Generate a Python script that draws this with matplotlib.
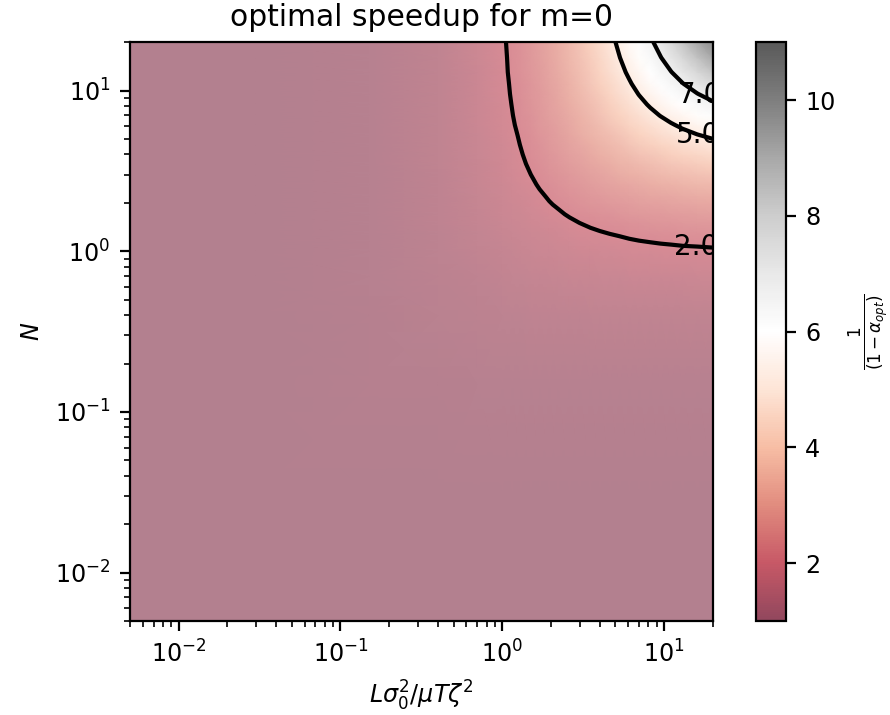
import numpy as np
import matplotlib
matplotlib.use("Agg")
import matplotlib.pyplot as plt
from matplotlib.colors import ListedColormap, Normalize
from matplotlib.cm import ScalarMappable

# grid of L sigma^2 / mu T zeta^2 values (same grid used for N)
x_vals = [0.005, 0.03, 0.15, 0.4, 0.7, 1.0, 1.15, 1.3, 1.5, 1.7, 1.95, 2.2, 2.6,
          3.0, 3.5, 4.0, 4.6, 5.3, 6.1, 7.0, 8.2, 9.5, 11.0, 13.0, 16.0, 20.0]
n_vals = [0.005, 0.03, 0.15, 0.4, 0.7, 1.0, 1.15, 1.3, 1.5, 1.7, 1.95, 2.2, 2.6,
          3.0, 3.5, 4.0, 4.6, 5.3, 6.1, 7.0, 8.2, 9.5, 11.0, 13.0, 16.0, 20.0]

# optimal speedup 1/(1-alpha_opt), rows = N, cols = x
speedup = [
    [1.00, 1.00, 1.00, 1.00, 1.00, 1.00, 1.00, 1.00, 1.00, 1.00, 1.00, 1.00, 1.00, 1.00, 1.00, 1.00, 1.00, 1.00, 1.00, 1.00, 1.00, 1.00, 1.00, 1.00, 1.00, 1.00],
    [1.00, 1.02, 1.03, 1.03, 1.03, 1.03, 1.03, 1.03, 1.03, 1.03, 1.03, 1.03, 1.03, 1.03, 1.03, 1.03, 1.03, 1.03, 1.03, 1.03, 1.03, 1.03, 1.03, 1.03, 1.03, 1.03],
    [1.00, 1.03, 1.08, 1.11, 1.12, 1.13, 1.13, 1.13, 1.14, 1.14, 1.14, 1.14, 1.14, 1.14, 1.14, 1.14, 1.15, 1.15, 1.15, 1.15, 1.15, 1.15, 1.15, 1.15, 1.15, 1.15],
    [1.00, 1.03, 1.11, 1.20, 1.25, 1.29, 1.30, 1.31, 1.32, 1.32, 1.33, 1.34, 1.35, 1.35, 1.36, 1.36, 1.37, 1.37, 1.38, 1.38, 1.38, 1.38, 1.39, 1.39, 1.39, 1.39],
    [1.00, 1.03, 1.12, 1.25, 1.35, 1.41, 1.44, 1.46, 1.48, 1.50, 1.52, 1.53, 1.55, 1.57, 1.58, 1.60, 1.61, 1.62, 1.63, 1.64, 1.64, 1.65, 1.66, 1.66, 1.67, 1.68],
    [1.00, 1.03, 1.13, 1.29, 1.41, 1.50, 1.53, 1.57, 1.60, 1.63, 1.66, 1.69, 1.72, 1.75, 1.78, 1.80, 1.82, 1.84, 1.86, 1.88, 1.89, 1.90, 1.92, 1.93, 1.94, 1.95],
    [1.00, 1.03, 1.13, 1.30, 1.44, 1.53, 1.58, 1.61, 1.65, 1.69, 1.72, 1.76, 1.80, 1.83, 1.87, 1.89, 1.92, 1.94, 1.97, 1.99, 2.01, 2.03, 2.04, 2.06, 2.07, 2.09],
    [1.00, 1.03, 1.13, 1.31, 1.46, 1.57, 1.61, 1.65, 1.70, 1.74, 1.78, 1.82, 1.87, 1.91, 1.95, 1.98, 2.01, 2.04, 2.07, 2.10, 2.12, 2.14, 2.16, 2.18, 2.20, 2.22],
    [1.00, 1.03, 1.14, 1.32, 1.48, 1.60, 1.65, 1.70, 1.75, 1.80, 1.85, 1.89, 1.95, 2.00, 2.05, 2.09, 2.13, 2.17, 2.20, 2.24, 2.27, 2.30, 2.32, 2.34, 2.37, 2.40],
    [1.00, 1.03, 1.14, 1.32, 1.50, 1.63, 1.69, 1.74, 1.80, 1.85, 1.91, 1.96, 2.03, 2.09, 2.14, 2.19, 2.24, 2.29, 2.33, 2.37, 2.41, 2.44, 2.47, 2.50, 2.54, 2.57],
    [1.00, 1.03, 1.14, 1.33, 1.52, 1.66, 1.72, 1.78, 1.85, 1.91, 1.98, 2.03, 2.11, 2.18, 2.25, 2.31, 2.37, 2.43, 2.48, 2.53, 2.58, 2.62, 2.66, 2.70, 2.74, 2.78],
    [1.00, 1.03, 1.14, 1.34, 1.53, 1.69, 1.76, 1.82, 1.89, 1.96, 2.03, 2.10, 2.19, 2.27, 2.35, 2.42, 2.49, 2.55, 2.62, 2.67, 2.73, 2.79, 2.83, 2.88, 2.93, 2.98],
    [1.00, 1.03, 1.14, 1.35, 1.55, 1.72, 1.80, 1.87, 1.95, 2.03, 2.11, 2.19, 2.30, 2.39, 2.49, 2.58, 2.66, 2.74, 2.82, 2.90, 2.97, 3.04, 3.10, 3.17, 3.24, 3.30],
    [1.00, 1.03, 1.14, 1.35, 1.57, 1.75, 1.83, 1.91, 2.00, 2.09, 2.18, 2.27, 2.39, 2.50, 2.62, 2.71, 2.82, 2.92, 3.01, 3.10, 3.20, 3.28, 3.36, 3.44, 3.53, 3.61],
    [1.00, 1.03, 1.14, 1.36, 1.58, 1.78, 1.87, 1.95, 2.05, 2.14, 2.25, 2.35, 2.49, 2.62, 2.75, 2.87, 2.99, 3.11, 3.22, 3.33, 3.45, 3.56, 3.66, 3.76, 3.87, 3.98],
    [1.00, 1.03, 1.14, 1.36, 1.60, 1.80, 1.89, 1.98, 2.09, 2.19, 2.31, 2.42, 2.58, 2.71, 2.87, 3.00, 3.14, 3.28, 3.42, 3.55, 3.69, 3.81, 3.93, 4.06, 4.20, 4.33],
    [1.00, 1.03, 1.15, 1.37, 1.61, 1.82, 1.92, 2.01, 2.13, 2.24, 2.37, 2.49, 2.66, 2.82, 2.99, 3.14, 3.30, 3.46, 3.62, 3.78, 3.95, 4.10, 4.24, 4.40, 4.57, 4.74],
    [1.00, 1.03, 1.15, 1.37, 1.62, 1.84, 1.94, 2.04, 2.17, 2.29, 2.43, 2.55, 2.74, 2.92, 3.11, 3.28, 3.46, 3.65, 3.84, 4.02, 4.22, 4.40, 4.58, 4.77, 4.98, 5.19],
    [1.00, 1.03, 1.15, 1.38, 1.63, 1.86, 1.97, 2.07, 2.20, 2.33, 2.48, 2.62, 2.82, 3.01, 3.22, 3.42, 3.62, 3.84, 4.05, 4.26, 4.50, 4.71, 4.92, 5.15, 5.42, 5.67],
    [1.00, 1.03, 1.15, 1.38, 1.64, 1.88, 1.99, 2.10, 2.24, 2.37, 2.53, 2.67, 2.90, 3.10, 3.33, 3.55, 3.78, 4.02, 4.26, 4.50, 4.78, 5.03, 5.28, 5.55, 5.87, 6.19],
    [1.00, 1.03, 1.15, 1.38, 1.64, 1.89, 2.01, 2.12, 2.27, 2.41, 2.58, 2.73, 2.97, 3.20, 3.45, 3.69, 3.95, 4.22, 4.50, 4.78, 5.10, 5.40, 5.70, 6.03, 6.42, 6.82],
    [1.00, 1.03, 1.15, 1.38, 1.65, 1.90, 2.03, 2.14, 2.30, 2.44, 2.62, 2.79, 3.04, 3.28, 3.56, 3.81, 4.10, 4.40, 4.71, 5.03, 5.40, 5.75, 6.10, 6.49, 6.96, 7.44],
    [1.00, 1.03, 1.15, 1.39, 1.66, 1.92, 2.04, 2.16, 2.32, 2.47, 2.66, 2.83, 3.10, 3.36, 3.66, 3.93, 4.24, 4.58, 4.92, 5.28, 5.70, 6.10, 6.50, 6.96, 7.52, 8.10],
    [1.00, 1.03, 1.15, 1.39, 1.66, 1.93, 2.06, 2.18, 2.34, 2.50, 2.70, 2.88, 3.17, 3.44, 3.76, 4.06, 4.40, 4.77, 5.15, 5.55, 6.03, 6.49, 6.96, 7.50, 8.17, 8.88],
    [1.00, 1.03, 1.15, 1.39, 1.67, 1.94, 2.07, 2.20, 2.37, 2.54, 2.74, 2.93, 3.24, 3.53, 3.87, 4.20, 4.57, 4.98, 5.42, 5.87, 6.42, 6.96, 7.52, 8.17, 9.00, 9.89],
    [1.00, 1.03, 1.15, 1.39, 1.68, 1.95, 2.09, 2.22, 2.40, 2.57, 2.78, 2.98, 3.30, 3.61, 3.98, 4.33, 4.74, 5.19, 5.67, 6.19, 6.82, 7.44, 8.10, 8.88, 9.89, 11.00],
]

contour_levels = [2.0, 5.0, 7.0]
label_spots = [(15.8, 1.07), (16.2, 5.3), (16.7, 9.3)]

plt.rcParams['font.size'] = 8.6


def faded(name, alpha):
    # colormap blended over white, kept opaque so gouraud cells leave no seams
    cols = plt.get_cmap(name)(np.linspace(0, 1, 256))
    cols[:, :3] = alpha * cols[:, :3] + (1 - alpha)
    return ListedColormap(cols)


fig = plt.figure(figsize=(4.45, 3.575), dpi=200)
ax = fig.add_axes([0.146, 0.1315, 0.655, 0.8095])
cax = fig.add_axes([0.849, 0.1315, 0.034, 0.8095])

X, Y = np.meshgrid(x_vals, n_vals)
Z = np.array(speedup)
norm = Normalize(vmin=1, vmax=11)

mesh = ax.pcolormesh(X, Y, Z, cmap=faded('RdGy', 0.5), norm=norm,
                     shading='gouraud', antialiased=False, edgecolors='none')
cs = ax.contour(X, Y, Z, levels=contour_levels, colors='k', linewidths=1.5)
labels = ax.clabel(cs, inline=False, fmt='%1.1f', manual=label_spots, fontsize=10)
for t in labels:
    t.set_rotation(0)

ax.set_xscale('log')
ax.set_yscale('log')
ax.set_xlim(0.005, 20)
ax.set_ylim(0.005, 20)
ax.set_xlabel(r'$L\sigma_0^2/\mu T\zeta^2$')
ax.set_ylabel(r'$N$')
ax.set_title('optimal speedup for m=0', fontsize=10.7)

# the colour bar in the original comes out a bit stronger than the map itself
cb = fig.colorbar(ScalarMappable(norm=norm, cmap=faded('RdGy', 0.72)), cax=cax)
cb.set_label(r'$\frac{1}{(1-\alpha_{opt})}$')

fig.savefig('out.png', dpi=200)
